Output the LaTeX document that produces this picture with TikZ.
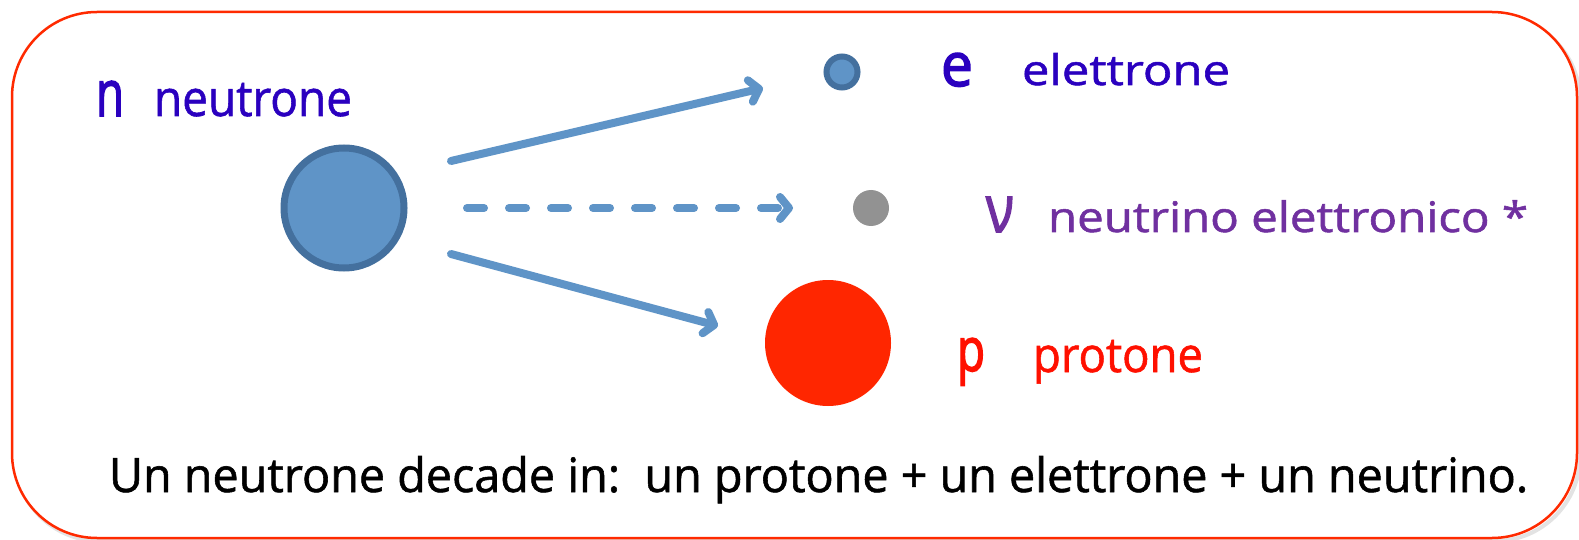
\documentclass[tikz,border=0pt]{standalone}
\usepackage{fontspec}
\setmainfont{Open Sans}
\newfontfamily\heavy{Open Sans}[FakeBold=1.2]
\newfontfamily\heavier{Open Sans}[FakeBold=2.5]
\usetikzlibrary{arrows.meta}
\definecolor{nblue}{HTML}{5F94C7}
\definecolor{nedge}{HTML}{44709E}
\definecolor{tblue}{HTML}{2A00BF}
\definecolor{tpurple}{HTML}{7030A0}
\definecolor{tred}{HTML}{FF1000}
\definecolor{pred}{HTML}{FF2600}
\definecolor{boxred}{HTML}{FF2A00}
\definecolor{ngray}{HTML}{929292}
\newcommand{\fitwh}[3]{\resizebox{#1}{#2}{\heavy #3}}
\newcommand{\symwh}[3]{\resizebox{#1}{#2}{\heavier #3}}
\tikzset{
  lbl/.style={anchor=base west, inner sep=0pt, outer sep=0pt},
  particle/.style={circle, inner sep=0pt, outer sep=0pt},
  decay/.style={draw=nblue, line width=8pt, line cap=round,
    -{Straight Barb[length=9pt,width=22pt,line cap=round,line join=round]}},
}
\begin{document}
\begin{tikzpicture}[x=1pt,y=-1pt]
\useasboundingbox (0,0) rectangle (1579,540);
% frame with shadow
\draw[gray!22, line width=4pt, rounded corners=85pt] (15,16) rectangle (1580,541);
\draw[boxred, line width=2.5pt, fill=white, rounded corners=85pt] (12,12) rectangle (1577,538);
% particles
\node[particle, minimum size=120pt, fill=nblue, draw=nedge, line width=7pt] (n) at (344,208) {};
\node[particle, minimum size=31pt, fill=nblue, draw=nedge, line width=6pt] (e) at (842,72) {};
\node[particle, minimum size=36pt, fill=ngray] (nu) at (871,208) {};
\node[particle, minimum size=126pt, fill=pred] (p) at (828,343) {};
% arrow end points
\coordinate (a1s) at (451,161);
\coordinate (a1e) at (763,88);
\coordinate (a2s) at (467,208);
\coordinate (a2e) at (793,208);
\coordinate (a3s) at (451,254);
\coordinate (a3e) at (718,326);
\draw[decay] (a1s) -- (a1e);
\draw[decay, dash pattern=on 17pt off 25pt] (a2s) -- (a2e);
\draw[decay] (a3s) -- (a3e);
% labels
\node[lbl, text=tblue] (nsym) at (96,116) {\symwh{28pt}{35pt}{n}};
\node[lbl, text=tblue] (nlab) at (154,116) {\fitwh{198pt}{33pt}{neutrone}};
\node[lbl, text=tblue] (esym) at (941,86) {\symwh{32pt}{33pt}{e}};
\node[lbl, text=tblue] (elab) at (1022,85) {\fitwh{208pt}{32pt}{elettrone}};
\node[lbl, text=tpurple] (nusym) at (986,232) {\symwh{28pt}{35pt}{ν}};
\node[lbl, text=tpurple] (nulab) at (1048,232) {\fitwh{480pt}{32pt}{neutrino elettronico *}};
\node[lbl, text=tred] (psym) at (957,371) {\symwh{28pt}{33pt}{p}};
\node[lbl, text=tred] (plab) at (1033,372) {\fitwh{170pt}{32pt}{protone}};
\node[lbl, text=black] (caption) at (109,492) {\fitwh{1419pt}{36pt}{Un neutrone decade in:\ \ un protone + un elettrone + un neutrino.}};
\end{tikzpicture}
\end{document}
